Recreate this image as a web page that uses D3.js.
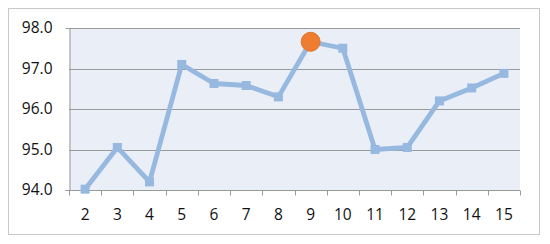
<!DOCTYPE html>
<html>
<head>
<meta charset="utf-8">
<script src="https://cdn.jsdelivr.net/npm/d3@7"></script>
<style>
  body { margin: 0; background: #fff; }
  text { font-family: "Open Sans", "Noto Sans", sans-serif; }
</style>
</head>
<body>
<svg id="chart" width="550" height="244"></svg>
<script>
// data
let categories = ["2", "3", "4", "5", "6", "7", "8", "9", "10", "11", "12", "13", "14", "15"];
let values = [94.02, 95.05, 94.2, 97.1, 96.63, 96.58, 96.3, 97.66, 97.5, 95.0, 95.05, 96.2, 96.52, 96.88];
let yTicks = [94, 95, 96, 97, 98];
let highlight = "9";

let svg = d3.select("#chart");

// outer frame
svg.append("rect")
    .attr("x", 8.5).attr("y", 8.5)
    .attr("width", 531).attr("height", 226)
    .attr("fill", "#fff")
    .attr("stroke", "#c8c8c8");

let plotL = 69, plotR = 520, plotT = 28, plotB = 190;

let x = d3.scaleBand().domain(categories).range([plotL, plotR]);
let y = d3.scaleLinear().domain([94, 98]).range([plotB, plotT]);

// plot background
svg.append("rect")
    .attr("x", plotL).attr("y", plotT)
    .attr("width", plotR - plotL).attr("height", plotB - plotT)
    .attr("fill", "#e9eef7");

// gridlines
svg.append("g")
    .selectAll("line")
    .data(yTicks.slice(1))
    .enter()
    .append("line")
    .attr("x1", plotL).attr("x2", plotR)
    .attr("y1", d => Math.round(y(d)) + 0.5)
    .attr("y2", d => Math.round(y(d)) + 0.5)
    .attr("stroke", "#9a9a9a")
    .attr("stroke-width", 1);

// y axis
let yAxis = svg.append("g")
    .attr("transform", `translate(${plotL + 0.5},0)`)
    .call(d3.axisLeft(y).tickValues(yTicks).tickFormat(d3.format(".1f")).tickSize(4).tickPadding(13));
yAxis.select(".domain").attr("stroke", "#9a9a9a");
yAxis.selectAll(".tick line").attr("stroke", "#9a9a9a")
    .attr("opacity", d => d === 94 ? 1 : 0);
yAxis.selectAll("text")
    .attr("font-size", 15.5)
    .attr("fill", "#111")
    .attr("font-family", "Open Sans, Noto Sans, sans-serif");

// x axis, tick marks at band edges
let xg = svg.append("g")
    .attr("transform", `translate(0,${plotB + 0.5})`);
xg.append("line")
    .attr("x1", plotL).attr("x2", plotR)
    .attr("stroke", "#9a9a9a");
xg.selectAll("line.tk")
    .data(categories.concat(["end"]))
    .enter()
    .append("line")
    .attr("class", "tk")
    .attr("x1", (d, i) => Math.round(plotL + i * x.step()) + 0.5)
    .attr("x2", (d, i) => Math.round(plotL + i * x.step()) + 0.5)
    .attr("y1", 0).attr("y2", 5)
    .attr("stroke", "#9a9a9a");
xg.selectAll("text")
    .data(categories)
    .enter()
    .append("text")
    .attr("x", d => x(d) + x.bandwidth() / 2)
    .attr("y", 29.5)
    .attr("text-anchor", "middle")
    .attr("font-size", 15.5)
    .attr("fill", "#111")
    .text(d => d);

// series line
let line = d3.line()
    .x((d, i) => x(categories[i]) + x.bandwidth() / 2)
    .y(d => y(d));

svg.append("path")
    .datum(values)
    .attr("d", line)
    .attr("fill", "none")
    .attr("stroke", "#97b9e0")
    .attr("stroke-width", 4.8)
    .attr("stroke-linejoin", "round");

// square markers
let points = categories.map((c, i) => ({ cat: c, val: values[i] }))
    .filter(p => p.cat !== highlight);

svg.append("g")
    .selectAll("rect")
    .data(points)
    .enter()
    .append("rect")
    .attr("x", d => x(d.cat) + x.bandwidth() / 2 - 4.5)
    .attr("y", d => y(d.val) - 4.5)
    .attr("width", 9).attr("height", 9)
    .attr("fill", "#97b9e0");

// highlighted point
let hi = categories.indexOf(highlight);
svg.append("circle")
    .attr("cx", x(highlight) + x.bandwidth() / 2)
    .attr("cy", y(values[hi]))
    .attr("r", 9.5)
    .attr("fill", "#ee7d32")
    .attr("stroke", "#e0772e")
    .attr("stroke-width", 1);
</script>
</body>
</html>
